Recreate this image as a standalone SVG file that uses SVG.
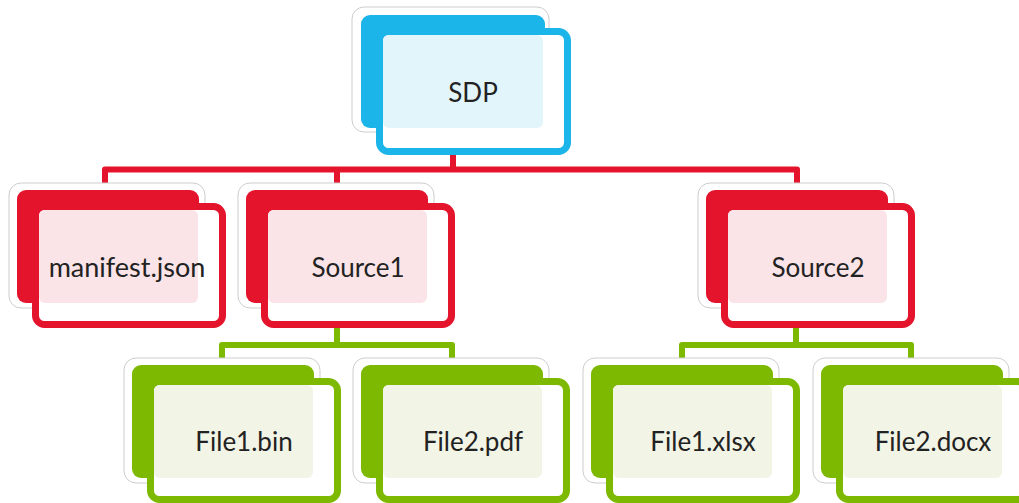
<svg xmlns="http://www.w3.org/2000/svg" width="1019" height="503" viewBox="0 0 1019 503">
<style>
.frame{fill:#ffffff;stroke:#cdcdcd;stroke-width:1}
.lbl{font-family:Lato,"Liberation Sans",sans-serif;font-size:26px;fill:#222222;text-anchor:middle}
.blue .back{fill:#1bb5e9}.blue .front{fill:#ffffff;stroke:#1bb5e9;stroke-width:7}.blue .pale{fill:#e2f5fb}
.red .back{fill:#e5142d}.red .front{fill:#ffffff;stroke:#e5142d;stroke-width:7}.red .pale{fill:#fbe4e7}
.green .back{fill:#7cb900}.green .front{fill:#ffffff;stroke:#7cb900;stroke-width:7}.green .pale{fill:#f2f4e5}
.cr{fill:none;stroke:#e5142d;stroke-width:6;stroke-linejoin:round}
.cg{fill:none;stroke:#7cb900;stroke-width:6;stroke-linejoin:round}
</style>
<g id="connectors">
<path class="cr" d="M453 152 V169.5"/>
<path class="cr" d="M105 190 V169.5 H797 V190"/>
<path class="cr" d="M337 169.5 V190"/>
<path class="cg" d="M337 326 V345"/>
<path class="cg" d="M222 365 V345 H452 V365"/>
<path class="cg" d="M796 326 V345"/>
<path class="cg" d="M682 365 V345 H911 V365"/>
</g>
<g id="node-sdp" class="blue" transform="translate(361,15)">
<rect class="frame" x="-9" y="-8" width="197" height="125" rx="12"/>
<rect class="back" x="0" y="0" width="184" height="113" rx="9"/>
<rect class="front" x="18.5" y="16.5" width="188" height="120" rx="9"/>
<rect class="pale" x="22" y="20" width="160" height="93" rx="6"/>
<text class="lbl" x="112" y="87">SDP</text>
</g>
<g id="node-manifest" class="red" transform="translate(17,190)">
<rect class="frame" x="-8" y="-7" width="196" height="125" rx="12"/>
<rect class="back" x="0" y="0" width="182" height="113" rx="9"/>
<rect class="front" x="18.5" y="16.5" width="187" height="118" rx="9"/>
<rect class="pale" x="22" y="20" width="159" height="93" rx="6"/>
<text class="lbl" x="110" y="87" style="font-size:27px">manifest.json</text>
</g>
<g id="node-source1" class="red" transform="translate(246,190)">
<rect class="frame" x="-8" y="-7" width="196" height="125" rx="12"/>
<rect class="back" x="0" y="0" width="182" height="113" rx="9"/>
<rect class="front" x="18.5" y="16.5" width="187" height="118" rx="9"/>
<rect class="pale" x="22" y="20" width="159" height="93" rx="6"/>
<text class="lbl" x="112" y="87">Source1</text>
</g>
<g id="node-source2" class="red" transform="translate(706,190)">
<rect class="frame" x="-8" y="-7" width="196" height="125" rx="12"/>
<rect class="back" x="0" y="0" width="182" height="113" rx="9"/>
<rect class="front" x="18.5" y="16.5" width="187" height="118" rx="9"/>
<rect class="pale" x="22" y="20" width="159" height="93" rx="6"/>
<text class="lbl" x="112" y="87">Source2</text>
</g>
<g id="node-file1bin" class="green" transform="translate(132,365)">
<rect class="frame" x="-8" y="-7" width="196" height="125" rx="12"/>
<rect class="back" x="0" y="0" width="182" height="113" rx="9"/>
<rect class="front" x="18.5" y="16.5" width="187" height="118" rx="9"/>
<rect class="pale" x="22" y="20" width="159" height="93" rx="6"/>
<text class="lbl" x="112" y="86">File1.bin</text>
</g>
<g id="node-file2pdf" class="green" transform="translate(361,365)">
<rect class="frame" x="-8" y="-7" width="196" height="125" rx="12"/>
<rect class="back" x="0" y="0" width="182" height="113" rx="9"/>
<rect class="front" x="18.5" y="16.5" width="187" height="118" rx="9"/>
<rect class="pale" x="22" y="20" width="159" height="93" rx="6"/>
<text class="lbl" x="112" y="86">File2.pdf</text>
</g>
<g id="node-file1xlsx" class="green" transform="translate(591,365)">
<rect class="frame" x="-8" y="-7" width="196" height="125" rx="12"/>
<rect class="back" x="0" y="0" width="182" height="113" rx="9"/>
<rect class="front" x="18.5" y="16.5" width="187" height="118" rx="9"/>
<rect class="pale" x="22" y="20" width="159" height="93" rx="6"/>
<text class="lbl" x="112" y="86">File1.xlsx</text>
</g>
<g id="node-file2docx" class="green" transform="translate(821,365)">
<rect class="frame" x="-8" y="-7" width="196" height="125" rx="12"/>
<rect class="back" x="0" y="0" width="182" height="113" rx="9"/>
<rect class="front" x="18.5" y="16.5" width="187" height="118" rx="9"/>
<rect class="pale" x="22" y="20" width="159" height="93" rx="6"/>
<text class="lbl" x="112" y="86">File2.docx</text>
</g>
</svg>
